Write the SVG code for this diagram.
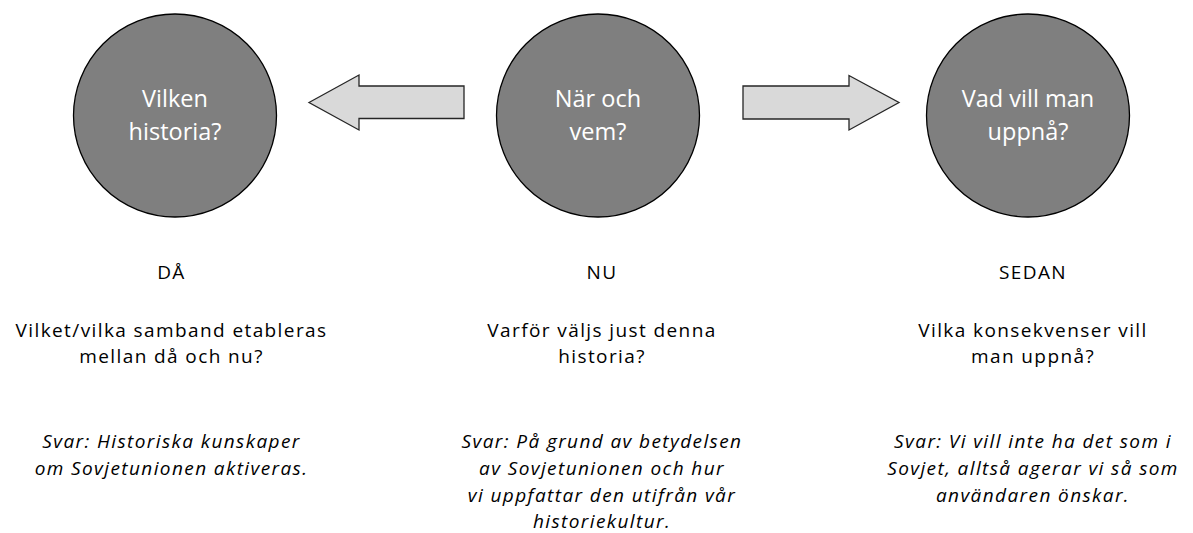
<svg xmlns="http://www.w3.org/2000/svg" width="1193" height="533" viewBox="0 0 1193 533">
<style>
.node{fill:#7f7f7f;stroke:#000;stroke-width:1.3}
.ntx{font-family:"Open Sans","Liberation Sans",sans-serif;font-size:23.5px;fill:#fff;text-anchor:middle}
.arr{fill:#d9d9d9;stroke:#262626;stroke-width:1.3;stroke-linejoin:miter}
.lbl{font-family:"Open Sans","Liberation Sans",sans-serif;font-size:19px;fill:#000;text-anchor:middle;letter-spacing:1.4px}
.it{font-style:italic}
</style>
<rect width="1193" height="533" fill="#fff"/>
<g id="connectors">
<polygon class="arr" points="309,102.5 359,75 359,86 464,86 464,118.5 359,118.5 359,130"/>
<polygon class="arr" points="743,86 849,86 849,75.5 899,102.5 849,130 849,119 743,119"/>
</g>
<g id="node-da">
<circle class="node" cx="175" cy="115.5" r="101.5"/>
<text class="ntx" x="175" y="107.3">Vilken</text>
<text class="ntx" x="175" y="140">historia?</text>
</g>
<g id="node-nu">
<circle class="node" cx="598" cy="115.5" r="101.5"/>
<text class="ntx" x="598" y="107.3">När och</text>
<text class="ntx" x="598" y="140">vem?</text>
</g>
<g id="node-sedan">
<circle class="node" cx="1028" cy="115.5" r="101.5"/>
<text class="ntx" x="1028" y="107.3">Vad vill man</text>
<text class="ntx" x="1028" y="140">uppnå?</text>
</g>
<g id="text-da">
<text class="lbl" x="171.5" y="279.3">DÅ</text>
<text class="lbl" x="171.5" y="336.7">Vilket/vilka samband etableras</text>
<text class="lbl" x="171.5" y="363.3">mellan då och nu?</text>
<text class="lbl it" x="171.5" y="448.3">Svar: Historiska kunskaper</text>
<text class="lbl it" x="171.5" y="475">om Sovjetunionen aktiveras.</text>
</g>
<g id="text-nu">
<text class="lbl" x="602" y="279.3">NU</text>
<text class="lbl" x="602" y="336.7">Varför väljs just denna</text>
<text class="lbl" x="602" y="363.3">historia?</text>
<text class="lbl it" x="602" y="448.3">Svar: På grund av betydelsen</text>
<text class="lbl it" x="602" y="475">av Sovjetunionen och hur</text>
<text class="lbl it" x="602" y="501.7">vi uppfattar den utifrån vår</text>
<text class="lbl it" x="602" y="528.3">historiekultur.</text>
</g>
<g id="text-sedan">
<text class="lbl" x="1033" y="279.3">SEDAN</text>
<text class="lbl" x="1033" y="336.7">Vilka konsekvenser vill</text>
<text class="lbl" x="1033" y="363.3">man uppnå?</text>
<text class="lbl it" x="1033" y="448.3">Svar: Vi vill inte ha det som i</text>
<text class="lbl it" x="1033" y="475">Sovjet, alltså agerar vi så som</text>
<text class="lbl it" x="1033" y="501.7">användaren önskar.</text>
</g>
</svg>
